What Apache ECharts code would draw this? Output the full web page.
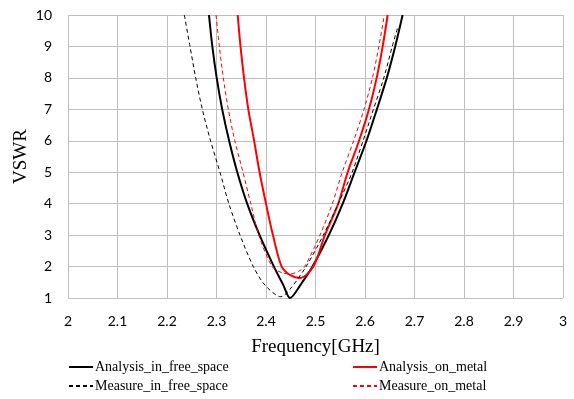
<!DOCTYPE html>
<html><head><meta charset="utf-8">
<script src="https://cdn.jsdelivr.net/npm/echarts@6/dist/echarts.min.js"></script>
<style>html,body{margin:0;padding:0;background:#fff}#c{width:574px;height:399px}</style>
</head><body><div id="c"></div>
<script>
const xTicks = [2, 2.1, 2.2, 2.3, 2.4, 2.5, 2.6, 2.7, 2.8, 2.9, 3];
const yTicks = [1, 2, 3, 4, 5, 6, 7, 8, 9, 10];
const seriesNames = ['Analysis_in_free_space', 'Analysis_on_metal', 'Measure_in_free_space', 'Measure_on_metal'];
const analysisFree = [[2.2848,10],[2.2916,9],[2.3004,8],[2.3115,7],[2.3255,6],[2.342,5],[2.362,4],[2.387,3],[2.416,2],[2.435,1.41],[2.4485,1.0],[2.471,1.45],[2.494,2],[2.527,3],[2.555,4],[2.579,5],[2.603,6],[2.624,7],[2.644,8],[2.661,9],[2.676,10]];
const measureFree = [[2.235,10],[2.2465,9],[2.258,8],[2.2714,7],[2.288,6],[2.307,5],[2.325,4],[2.3475,3],[2.3744,2],[2.398,1.41],[2.43,1.04],[2.4485,1.28],[2.481,2],[2.5158,3],[2.546,4],[2.574,5],[2.596,6],[2.617,7],[2.638,8],[2.655,9],[2.666,9.6]];
const analysisMetal = [[2.3428,10],[2.3485,9],[2.3556,8],[2.3643,7],[2.376,6],[2.387,5],[2.400,4],[2.414,3],[2.4317,2],[2.45,1.72],[2.469,1.64],[2.4956,2],[2.519,3],[2.546,4],[2.565,5],[2.588,6],[2.608,7],[2.6236,8],[2.6357,9],[2.6458,10]];
const measureMetal = [[2.299,10],[2.3057,9],[2.3138,8],[2.3239,7],[2.337,6],[2.3535,5],[2.3693,4],[2.3855,3],[2.4125,2],[2.435,1.79],[2.45,1.77],[2.466,1.85],[2.478,2],[2.509,3],[2.534,4],[2.554,5],[2.577,6],[2.598,7],[2.615,8],[2.628,9],[2.639,10]];

const chart = echarts.init(document.getElementById('c'), null, {renderer:'canvas'});
const legendText = {fontFamily:'Liberation Serif', fontSize:14, color:'#000', padding:[0,0,0,-3]};
function leg(name, left, top){
  return {data:[name], left:left, top:top, itemWidth:24, itemHeight:10, itemGap:2, padding:0,
    itemStyle:{opacity:0}, textStyle:legendText};
}
function ser(name, data, color, width, type){
  return {name:name, type:'line', data:data, smooth:0.3, symbol:'none', clip:true,
    lineStyle:{color:color, width:width, type:type}, itemStyle:{color:color}};
}
chart.setOption({
  animation:false,
  grid:{left:68, right:11, top:15, bottom:101},
  xAxis:{type:'value', min:2, max:3, interval:0.1,
    name:'Frequency[GHz]', nameLocation:'middle', nameGap:40, nameMoveOverlap:false,
    nameTextStyle:{fontFamily:'Liberation Serif', fontSize:19, color:'#000'},
    axisLine:{show:false}, axisTick:{show:false},
    axisLabel:{fontFamily:'Lato', fontSize:14, color:'#000', margin:16,
      formatter:v=>{const t=xTicks.find(x=>Math.abs(x-v)<1e-6);return t===undefined?'':String(t);}},
    splitLine:{show:true, lineStyle:{color:'#bfbfbf', width:1}}},
  yAxis:{type:'value', min:1, max:10, interval:1,
    name:'VSWR', nameLocation:'middle', nameGap:37, nameRotate:90, nameMoveOverlap:false,
    nameTextStyle:{fontFamily:'Liberation Serif', fontSize:19, color:'#000'},
    axisLine:{show:false}, axisTick:{show:false},
    axisLabel:{fontFamily:'Lato', fontSize:14, color:'#000', margin:16,
      formatter:v=>{const t=yTicks.find(x=>Math.abs(x-v)<1e-6);return t===undefined?'':String(t);}},
    splitLine:{show:true, lineStyle:{color:'#bfbfbf', width:1}}},
  legend:[leg(seriesNames[0],68,360), leg(seriesNames[1],352,360), leg(seriesNames[2],68,379), leg(seriesNames[3],352,379)],
  series:[
    ser(seriesNames[0], analysisFree, '#000000', 2, 'solid'),
    ser(seriesNames[1], analysisMetal, '#ff0000', 2, 'solid'),
    ser(seriesNames[2], measureFree, '#000000', 1, [4,3]),
    ser(seriesNames[3], measureMetal, '#ff0000', 1, [4,3])
  ]
});
</script></body></html>
